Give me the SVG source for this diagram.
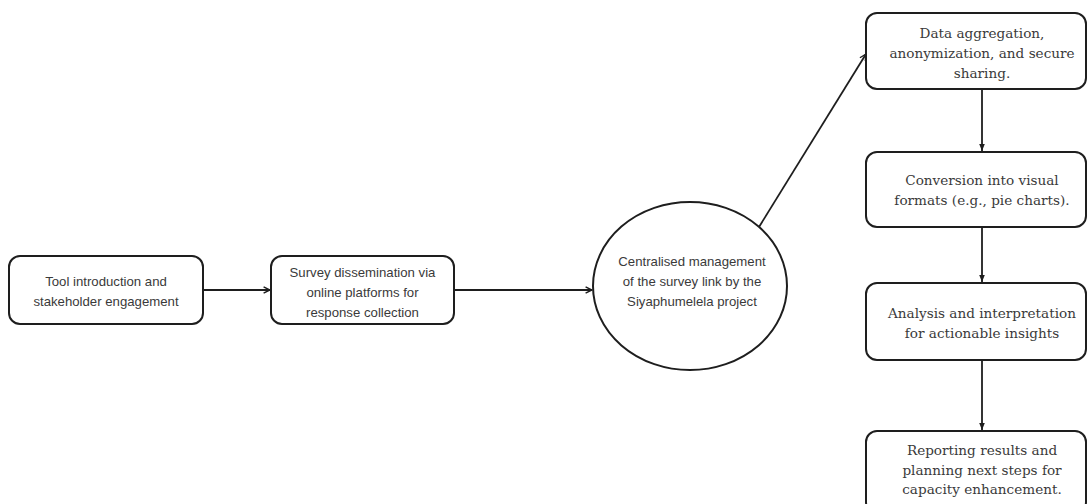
<svg xmlns="http://www.w3.org/2000/svg" width="1088" height="504" viewBox="0 0 1088 504">
<defs>
<style>
.box{fill:#fff;stroke:#1e1e1e;stroke-width:2}
.sans{font-family:"Liberation Sans",Arial,sans-serif;font-size:13.2px;fill:#3a3a3a;text-anchor:middle}
.serif{font-family:"DejaVu Serif","Liberation Serif",serif;font-size:13.6px;fill:#3a3a3a;text-anchor:middle}
.conn{fill:none;stroke:#1e1e1e;stroke-width:1.8}
</style>
<marker id="open" viewBox="0 0 10 10" refX="9" refY="5" markerWidth="8" markerHeight="8" markerUnits="userSpaceOnUse" orient="auto">
<polyline points="1,1 9,5 1,9" fill="none" stroke="#1e1e1e" stroke-width="1.8"/>
</marker>
<marker id="fill" viewBox="0 0 10 10" refX="10" refY="5" markerWidth="7" markerHeight="7" markerUnits="userSpaceOnUse" orient="auto">
<path d="M0,1 L10,5 L0,9 Z" fill="#1e1e1e"/>
</marker>
</defs>
<rect width="1088" height="504" fill="#fff"/>
<g id="connectors">
<line class="conn" x1="203" y1="290" x2="270" y2="290" marker-end="url(#open)"/>
<line class="conn" x1="454" y1="290" x2="592" y2="290" marker-end="url(#open)"/>
<line class="conn" x1="759" y1="227" x2="866" y2="54" marker-end="url(#open)"/>
<line class="conn" x1="982" y1="89" x2="982" y2="151" marker-end="url(#fill)"/>
<line class="conn" x1="982" y1="227" x2="982" y2="282" marker-end="url(#fill)"/>
<line class="conn" x1="982" y1="360" x2="982" y2="430" marker-end="url(#fill)"/>
</g>
<g id="node-tool-intro">
<rect class="box" x="9" y="256" width="194" height="68" rx="11"/>
<text class="sans"><tspan x="106" y="286">Tool introduction and</tspan><tspan x="106" y="306">stakeholder engagement</tspan></text>
</g>
<g id="node-survey">
<rect class="box" x="271" y="256" width="183" height="68" rx="11"/>
<text class="sans"><tspan x="362.5" y="277">Survey dissemination via</tspan><tspan x="362.5" y="297">online platforms for</tspan><tspan x="362.5" y="317">response collection</tspan></text>
</g>
<g id="node-central">
<ellipse class="box" cx="690" cy="286" rx="97" ry="84"/>
<text class="sans"><tspan x="692" y="266">Centralised management</tspan><tspan x="692" y="286">of the survey link by the</tspan><tspan x="692" y="306">Siyaphumelela project</tspan></text>
</g>
<g id="node-aggregation">
<rect class="box" x="866" y="13" width="220" height="76" rx="11"/>
<text class="serif"><tspan x="982" y="38">Data aggregation,</tspan><tspan x="982" y="58">anonymization, and secure</tspan><tspan x="982" y="78">sharing.</tspan></text>
</g>
<g id="node-conversion">
<rect class="box" x="866" y="152" width="220" height="75" rx="11"/>
<text class="serif"><tspan x="982" y="185">Conversion into visual</tspan><tspan x="982" y="205">formats (e.g., pie charts).</tspan></text>
</g>
<g id="node-analysis">
<rect class="box" x="866" y="283" width="220" height="77" rx="11"/>
<text class="serif"><tspan x="982" y="318">Analysis and interpretation</tspan><tspan x="982" y="338">for actionable insights</tspan></text>
</g>
<g id="node-reporting">
<rect class="box" x="866" y="431" width="220" height="82" rx="11"/>
<text class="serif"><tspan x="982" y="455">Reporting results and</tspan><tspan x="982" y="475">planning next steps for</tspan><tspan x="982" y="494">capacity enhancement.</tspan></text>
</g>
</svg>
